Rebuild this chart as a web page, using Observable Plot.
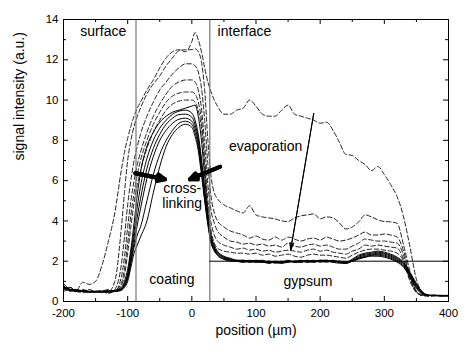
<!DOCTYPE html>
<html><head><meta charset="utf-8">
<script src="https://cdn.jsdelivr.net/npm/d3@7"></script>
<script src="https://cdn.jsdelivr.net/npm/@observablehq/plot@0.6"></script>
<style>body{margin:0;background:#fff}#chart{width:476px;height:361px}</style>
</head><body><div id="chart"></div>
<script>
// positions (µm)
const position = [-200,-190,-180,-170,-160,-150,-140,-130,-120,-110,
  -105,-100,-95,-90,-85,-80,-70,-60,-50,-40,
  -30,-20,-10,0,5,10,15,20,25,30,
  35,40,50,60,70,80,90,100,110,120,
  130,140,150,160,170,180,190,200,210,220,
  230,240,250,260,270,280,290,300,310,320,
  330,340,350,360,370,380,390,400];

// dashed profiles (early times)
const dashed1 = [0.7,0.6,0.55,0.95,0.85,1.0,1.8,3.0,4.4,6.5,
  7.4,8.1,8.7,9.2,9.6,9.9,10.5,11.0,11.6,12.1,
  12.4,12.5,12.4,12.9,13.35,13.0,12.4,11.6,10.9,10.4,
  10.0,9.7,9.3,9.3,9.5,9.6,10.0,9.7,9.3,9.2,
  9.2,9.5,9.75,9.3,9.2,9.1,9.0,8.85,8.9,8.5,
  7.9,7.3,7.25,7.0,6.8,6.5,6.7,6.3,5.8,5.2,
  4.2,2.7,1.1,0.45,0.3,0.3,0.28,0.3];
const dashed2 = [0.8,0.55,0.5,0.6,0.5,0.5,0.55,0.5,1.0,3.6,
  5.4,7.0,8.0,8.7,9.2,9.6,10.3,10.8,11.2,11.7,
  12.1,12.45,12.5,12.5,12.55,12.4,11.9,10.5,8.0,6.2,
  5.4,5.1,4.8,4.65,4.5,4.4,4.75,4.3,4.2,4.15,
  4.1,4.0,3.97,4.15,4.25,4.3,4.35,4.1,4.2,4.15,
  3.9,3.6,3.7,3.95,4.3,4.2,4.05,3.97,3.95,3.88,
  2.8,1.5,0.5,0.3,0.25,0.3,0.3,0.3];
const dashed3 = [0.9,0.6,0.5,0.5,0.6,0.5,0.5,0.4,0.6,1.8,
  3.2,4.8,6.0,7.0,7.7,8.3,9.2,9.9,10.5,10.9,
  11.3,11.6,11.8,11.8,11.7,11.4,10.6,9.0,6.8,5.2,
  4.4,4.0,3.7,3.5,3.4,3.3,3.15,3.25,3.1,3.05,
  3.2,3.05,3.2,3.1,3.0,3.1,3.15,3.05,3.2,3.1,
  3.0,3.05,3.15,3.3,3.45,3.3,3.3,3.35,3.3,3.2,
  2.5,1.3,0.5,0.3,0.3,0.28,0.3,0.3];
const dashed4 = [0.6,0.7,0.5,0.45,0.5,0.5,0.45,0.5,0.5,1.2,
  2.2,3.7,5.0,6.0,6.8,7.4,8.4,9.2,9.8,10.3,
  10.7,10.9,11.0,11.0,10.9,10.5,9.6,7.8,5.8,4.5,
  3.9,3.5,3.2,3.0,2.95,2.85,2.9,2.8,2.85,2.75,
  2.8,2.7,2.9,2.75,2.7,2.8,2.85,2.75,2.8,2.7,
  2.6,2.6,2.75,2.9,3.1,3.05,3.0,3.0,2.95,2.9,
  2.3,1.2,0.5,0.3,0.3,0.32,0.3,0.3];
const dashed5 = [0.7,0.5,0.6,0.5,0.45,0.5,0.5,0.45,0.55,0.9,
  1.6,2.9,4.3,5.4,6.3,7.0,8.0,8.8,9.4,9.9,
  10.2,10.35,10.4,10.4,10.3,9.9,9.0,7.1,5.0,3.9,
  3.3,3.0,2.8,2.7,2.6,2.65,2.55,2.6,2.5,2.55,
  2.45,2.5,2.55,2.5,2.45,2.55,2.6,2.5,2.55,2.45,
  2.4,2.35,2.5,2.6,2.8,2.75,2.8,2.75,2.7,2.65,
  2.1,1.1,0.45,0.3,0.3,0.3,0.28,0.3];
const dashed6 = [0.5,0.6,0.5,0.55,0.5,0.45,0.5,0.6,0.5,0.8,
  1.3,2.4,3.7,4.9,5.8,6.5,7.6,8.4,9.0,9.5,
  9.8,9.95,10.0,10.0,9.9,9.5,8.6,6.7,4.6,3.5,
  2.9,2.65,2.5,2.45,2.4,2.4,2.35,2.4,2.3,2.35,
  2.25,2.3,2.35,2.25,2.2,2.3,2.35,2.3,2.3,2.25,
  2.2,2.15,2.3,2.45,2.55,2.6,2.6,2.55,2.5,2.4,
  2.0,1.0,0.45,0.3,0.3,0.3,0.3,0.28];

// solid profiles (later times)
const solid1 = [0.7,0.6,0.5,0.5,0.5,0.5,0.5,0.5,0.55,0.7,
  1.0,1.6,2.6,3.9,5.3,6.4,7.7,8.4,8.9,9.2,
  9.4,9.5,9.6,9.7,9.75,9.2,8.0,6.2,4.4,3.3,
  2.8,2.5,2.25,2.15,2.05,2.05,2.0,2.05,2.0,1.95,
  1.95,1.9,2.0,2.0,2.05,1.95,2.0,2.05,2.05,2.0,
  2.0,1.95,2.1,2.3,2.4,2.45,2.5,2.45,2.35,2.2,
  1.95,1.45,0.9,0.45,0.32,0.3,0.28,0.28];
const solid2 = [0.8,0.55,0.55,0.5,0.45,0.5,0.5,0.55,0.5,0.65,
  0.9,1.4,2.4,3.5,4.7,5.7,7.1,8.0,8.6,9.0,
  9.3,9.45,9.5,9.35,9.0,8.3,7.1,5.6,4.2,3.2,
  2.7,2.45,2.2,2.1,2.05,2.0,2.05,2.0,1.95,2.0,
  1.9,1.95,2.05,1.95,2.0,2.0,1.95,2.05,2.0,2.05,
  1.95,1.9,2.05,2.25,2.35,2.4,2.45,2.4,2.3,2.15,
  1.9,1.4,0.85,0.45,0.3,0.3,0.3,0.28];
const solid3 = [0.6,0.7,0.5,0.5,0.5,0.45,0.5,0.5,0.55,0.6,
  0.85,1.3,2.2,3.2,4.2,5.1,6.6,7.6,8.3,8.8,
  9.1,9.28,9.3,9.15,8.8,8.1,6.9,5.4,4.1,3.1,
  2.65,2.4,2.2,2.1,2.0,2.05,1.95,2.0,2.05,1.95,
  1.95,2.0,1.95,2.0,1.95,2.05,2.0,2.0,2.05,1.95,
  2.0,1.95,2.0,2.2,2.3,2.35,2.4,2.35,2.25,2.1,
  1.85,1.35,0.8,0.4,0.3,0.28,0.3,0.3];
const solid4 = [0.75,0.6,0.55,0.5,0.5,0.5,0.45,0.5,0.5,0.6,
  0.8,1.2,2.0,2.9,3.8,4.6,6.1,7.2,8.0,8.5,
  8.85,9.05,9.1,8.95,8.6,7.9,6.7,5.2,4.0,3.0,
  2.6,2.35,2.15,2.05,2.0,1.95,2.0,1.95,2.0,1.9,
  2.0,1.95,2.0,1.95,2.0,2.0,2.05,1.95,2.0,2.0,
  1.95,1.9,2.0,2.15,2.25,2.3,2.35,2.3,2.2,2.05,
  1.8,1.3,0.75,0.4,0.3,0.3,0.28,0.3];
const solid5 = [0.65,0.55,0.6,0.5,0.5,0.5,0.5,0.45,0.5,0.6,
  0.75,1.1,1.9,2.7,3.3,3.7,5.0,6.3,7.3,8.0,
  8.5,8.85,8.95,8.8,8.4,7.7,6.5,5.1,3.9,2.95,
  2.55,2.3,2.1,2.05,2.0,2.0,1.95,2.0,1.95,2.0,
  1.95,1.9,1.95,2.0,2.0,1.95,2.0,2.0,1.95,2.0,
  1.95,1.95,2.05,2.15,2.2,2.3,2.3,2.25,2.15,2.0,
  1.75,1.25,0.7,0.38,0.3,0.3,0.3,0.28];
const solid6 = [0.7,0.6,0.5,0.55,0.5,0.5,0.5,0.5,0.5,0.55,
  0.7,1.0,1.7,2.4,2.8,3.2,4.0,5.4,6.7,7.7,
  8.3,8.65,8.8,8.65,8.2,7.5,6.3,5.0,3.8,2.9,
  2.5,2.3,2.1,2.0,2.0,1.95,2.0,1.95,1.95,1.9,
  1.95,1.95,2.0,1.95,1.95,2.0,1.95,2.0,2.0,1.95,
  1.9,1.9,2.0,2.1,2.2,2.25,2.25,2.2,2.1,1.95,
  1.7,1.2,0.65,0.35,0.3,0.3,0.28,0.3];

const xMajor = [-200,-100,0,100,200,300,400];
const xMinor = [-150,-50,50,150,250,350];
const yMajor = [0,2,4,6,8,10,12,14];
const yMinor = [1,3,5,7,9,11,13];

const boundaries = [-87, 28];     // surface | interface
const gypsumLevel = 2;

const labelText = ["surface","interface","evaporation","cross-\nlinking","coating","gypsum"];
const labelX = [-138, 82, 115, -15, -31, 181];
const labelY = [13.4, 13.4, 7.7, 5.27, 1.1, 1.0];

const crossArrows = [
  {x1: -88, y1: 6.37, x2: -42, y2: 6.07},
  {x1: 44, y1: 6.69, x2: -3, y2: 6.07}
];
const evapArrow = [{x1: 190, y1: 9.34, x2: 154, y2: 2.56}];

const dashedSeries = [dashed1, dashed2, dashed3, dashed4, dashed5, dashed6];
const solidSeries = [solid1, solid2, solid3, solid4, solid5, solid6];
const toRows = (series) => series.flatMap((vals, s) => vals.map((v, i) => ({series: s, position: position[i], value: v})));
const dashedRows = toRows(dashedSeries);
const solidRows = toRows(solidSeries);
const labels = labelText.map((t, i) => ({text: t, x: labelX[i], y: labelY[i]}));

const W = 476, H = 361, mL = 63, mR = 28, mT = 19, mB = 60;
const iW = W - mL - mR, iH = H - mT - mB;

const arrowEnc = {x1: "x1", y1: "y1", x2: "x2", y2: "y2", stroke: "#000"};

const chart = Plot.plot({
  width: W, height: H,
  marginLeft: mL, marginRight: mR, marginTop: mT, marginBottom: mB,
  style: {fontFamily: "'Liberation Sans', Arial, Helvetica, sans-serif", fontSize: "11.5px", background: "#fff", color: "#000"},
  x: {domain: [-200, 400], ticks: xMajor, tickSize: 0, tickPadding: 7, tickFormat: d => String(d), label: null},
  y: {domain: [0, 14], ticks: yMajor, tickSize: 0, tickPadding: 5, tickFormat: d => String(d), label: null},
  marks: [
    Plot.line(dashedRows, {x: "position", y: "value", z: "series", stroke: "#222", strokeWidth: 1, strokeDasharray: "4.5,2.5", curve: "monotone-x"}),
    Plot.line(solidRows, {x: "position", y: "value", z: "series", stroke: "#000", strokeWidth: 1, curve: "monotone-x"}),
    Plot.ruleX(boundaries, {stroke: "#777", strokeWidth: 1.2}),
    Plot.ruleY([gypsumLevel], {x1: boundaries[1], x2: 400, stroke: "#000", strokeWidth: 1}),
    // thick arrows with filled-looking heads (several head angles overlaid)
    ...[50, 32, 14].map(a => Plot.arrow(crossArrows, {...arrowEnc, strokeWidth: 4, headLength: 3, headAngle: a})),
    ...[32, 16].map(a => Plot.arrow(evapArrow, {...arrowEnc, strokeWidth: 1, headLength: 11, headAngle: a})),
    Plot.text(labels, {x: "x", y: "y", text: "text", fontSize: 14, lineHeight: 1.08, fill: "#000"}),
    // inward ticks on all four sides
    Plot.tickX(xMajor, {x: d => d, insetTop: iH - 5, stroke: "#000"}),
    Plot.tickX(xMinor, {x: d => d, insetTop: iH - 3, stroke: "#000"}),
    Plot.tickX(xMajor, {x: d => d, insetBottom: iH - 5, stroke: "#000"}),
    Plot.tickX(xMinor, {x: d => d, insetBottom: iH - 3, stroke: "#000"}),
    Plot.tickY(yMajor, {y: d => d, insetRight: iW - 5, stroke: "#000"}),
    Plot.tickY(yMinor, {y: d => d, insetRight: iW - 3, stroke: "#000"}),
    Plot.tickY(yMajor, {y: d => d, insetLeft: iW - 5, stroke: "#000"}),
    Plot.tickY(yMinor, {y: d => d, insetLeft: iW - 3, stroke: "#000"}),
    Plot.frame({stroke: "#000", strokeWidth: 1}),
    Plot.text(["position (µm)"], {frameAnchor: "bottom", dy: 33, fontSize: 14}),
    Plot.text(["signal intensity (a.u.)"], {frameAnchor: "left", dx: -44, rotate: -90, fontSize: 14})
  ]
});
document.getElementById("chart").appendChild(chart);
</script>
</body></html>
